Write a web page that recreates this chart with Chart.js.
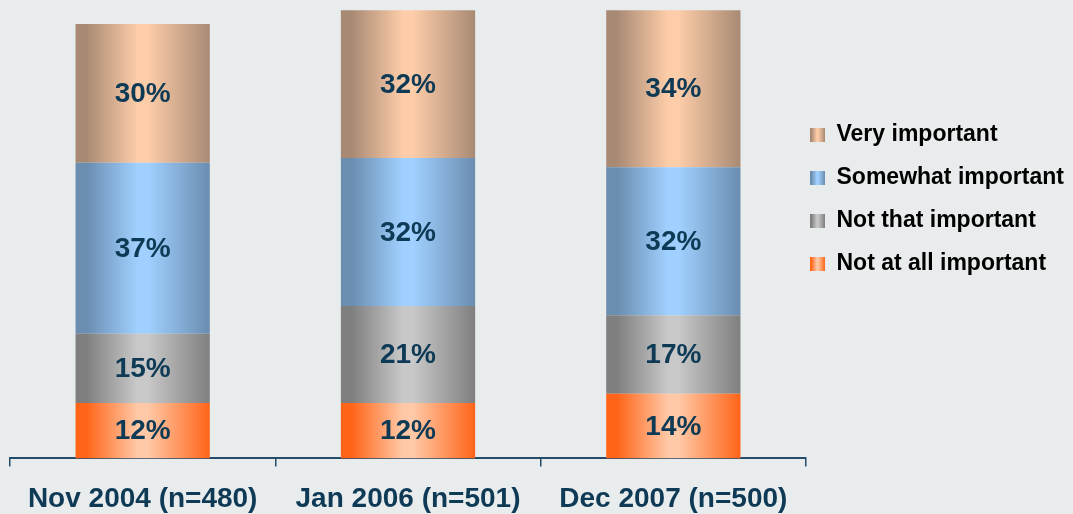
<!DOCTYPE html>
<html>
<head>
<meta charset="utf-8">
<script src="https://cdn.jsdelivr.net/npm/chart.js@4"></script>
<style>
  html, body { margin: 0; padding: 0; background: #e8eced; }
  #wrap { width: 1073px; height: 514px; }
</style>
</head>
<body>
<div id="wrap"><canvas id="importanceChart"></canvas></div>
<script>
// ── Data ─────────────────────────────────────────────────────────
const surveys = ['Nov 2004 (n=480)', 'Jan 2006 (n=501)', 'Dec 2007 (n=500)'];
const notAtAll = [12, 12, 14];
const notThat  = [15, 21, 17];
const somewhat = [37, 32, 32];
const very     = [30, 32, 34];

const TEXT = '#0e3a56';
const AXIS = '#234c6a';
const FONT = '"Liberation Sans", Arial, sans-serif';
const BAR_PCT = 0.506;

// gradient stops: edge, light centre, edge
const SHADES = {
  very:     ['#a88a74', '#fdcca8', '#a88a74'],
  somewhat: ['#6a8db0', '#a0d0ff', '#6a8db0'],
  notThat:  ['#7f7f7f', '#c8c8c8', '#7f7f7f'],
  notAtAll: ['#ff6418', '#ffc8a6', '#ff6418']
};

function addStops(g, s) {
  g.addColorStop(0, s[0]);
  g.addColorStop(0.08, s[0]);
  g.addColorStop(0.46, s[1]);
  g.addColorStop(0.54, s[1]);
  g.addColorStop(1, s[2]);
  return g;
}

// horizontal "cylinder" shading across each bar
function barShade(s) {
  return function (c) {
    const chart = c.chart;
    if (!chart.chartArea || c.dataIndex === undefined) return s[1];
    const xs = chart.scales.x;
    const half = xs.width / surveys.length * BAR_PCT / 2;
    const cx = xs.getPixelForValue(c.dataIndex);
    return addStops(chart.ctx.createLinearGradient(cx - half, 0, cx + half, 0), s);
  };
}

function swatch(s) {
  const cv = document.createElement('canvas');
  cv.width = 15; cv.height = 14;
  const g = cv.getContext('2d');
  g.fillStyle = addStops(g.createLinearGradient(0, 0, 15, 0), s);
  g.fillRect(0, 0, 15, 14);
  return cv;
}

// ── Labels inside segments + legend placement ────────────────────
const segmentLabels = {
  id: 'segmentLabels',
  afterLayout(chart) {
    chart.legend.left = 790;
    chart.legend.top = 103;
  },
  afterDatasetsDraw(chart) {
    const ctx = chart.ctx;
    ctx.save();
    ctx.font = 'bold 28px ' + FONT;
    ctx.fillStyle = TEXT;
    ctx.textAlign = 'center';
    ctx.textBaseline = 'middle';
    chart.data.datasets.forEach((ds, i) => {
      chart.getDatasetMeta(i).data.forEach((bar, j) => {
        const p = bar.getProps(['x', 'y', 'base'], true);
        ctx.fillText(ds.data[j] + '%', p.x, (p.y + p.base) / 2 + 1);
      });
    });
    ctx.restore();
  }
};

const series = [
  { label: 'Not at all important', data: notAtAll, shade: SHADES.notAtAll },
  { label: 'Not that important',   data: notThat,  shade: SHADES.notThat },
  { label: 'Somewhat important',   data: somewhat, shade: SHADES.somewhat },
  { label: 'Very important',       data: very,     shade: SHADES.very }
];

new Chart(document.getElementById('importanceChart'), {
  type: 'bar',
  data: {
    labels: surveys,
    datasets: series.map(s => ({
      label: s.label,
      data: s.data,
      backgroundColor: barShade(s.shade),
      borderWidth: 0,
      categoryPercentage: 1,
      barPercentage: BAR_PCT
    }))
  },
  options: {
    responsive: true, maintainAspectRatio: false,
    animation: false,
    layout: { padding: { left: 10, top: 0, bottom: -18 } },
    plugins: {
      tooltip: { enabled: false },
      legend: {
        position: 'right',
        align: 'start',
        reverse: true,
        maxWidth: 267,
        labels: {
          usePointStyle: true,
          pointStyleWidth: 15,
          padding: 20,
          color: TEXT,
          font: { family: FONT, size: 23, weight: 'bold' },
          generateLabels: chart => series.map((s, i) => ({
            text: s.label,
            pointStyle: swatch(s.shade),
            fillStyle: s.shade[1],
            strokeStyle: 'transparent',
            lineWidth: 0,
            hidden: false,
            datasetIndex: i
          }))
        }
      }
    },
    scales: {
      x: {
        stacked: true,
        grid: { display: true, drawOnChartArea: false, offset: true, tickLength: 8, color: AXIS, lineWidth: 1.5 },
        border: { display: true, color: AXIS, width: 2 },
        ticks: { color: TEXT, padding: 16, font: { family: FONT, size: 28, weight: 'bold' } }
      },
      y: {
        stacked: true,
        display: false,
        min: 0,
        max: 99.2
      }
    }
  },
  plugins: [segmentLabels]
});
</script>
</body>
</html>
